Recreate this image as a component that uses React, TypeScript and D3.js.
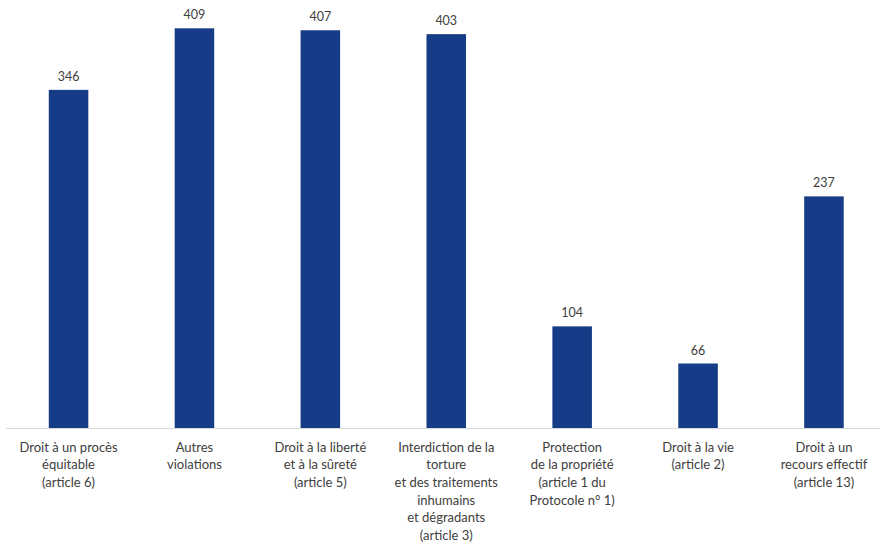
import React from "react";
import * as d3 from "d3";

const categories: string[][] = [
  ["Droit à un procès", "équitable", "(article 6)"],
  ["Autres", "violations"],
  ["Droit à la liberté", "et à la sûreté", "(article 5)"],
  ["Interdiction de la", "torture", "et des traitements", "inhumains", "et dégradants", "(article 3)"],
  ["Protection", "de la propriété", "(article 1 du", "Protocole n° 1)"],
  ["Droit à la vie", "(article 2)"],
  ["Droit à un", "recours effectif", "(article 13)"],
];
const values: number[] = [346, 409, 407, 403, 104, 66, 237];

const W = 880;
const H = 545;
const baseY = 428;
const FONT = "Lato, 'Open Sans', sans-serif";

export default function App() {
  const idx = categories.map((_, i) => String(i));
  const x = d3.scaleBand<string>().domain(idx).range([5.6, 886.9]).paddingInner(0.686).paddingOuter(0.343);
  const y = d3.scaleLinear().domain([0, 409]).range([baseY, 28.3]);
  return (
    <svg width={W} height={H} style={{ position: "absolute", left: 0, top: 0, display: "block" }}>
      <rect width={W} height={H} fill="#ffffff" />
      {values.map((v, i) => (
        <g key={i}>
          <rect x={x(String(i))} y={y(v)} width={x.bandwidth()} height={baseY - y(v)} fill="#173C87" />
          <text x={(x(String(i)) as number) + x.bandwidth() / 2} y={y(v) - 9} textAnchor="middle" fontFamily={FONT} fontSize={12.5} fill="#404040">
            {v}
          </text>
        </g>
      ))}
      <line x1={6} x2={880} y1={baseY + 0.5} y2={baseY + 0.5} stroke="#d9d9d9" strokeWidth={1} />
      {categories.map((lines, i) => (
        <text key={i} textAnchor="middle" fontFamily={FONT} fontSize={13} fill="#404040">
          {lines.map((l, j) => (
            <tspan key={j} x={(x(String(i)) as number) + x.bandwidth() / 2} y={451.7 + j * 17.6}>
              {l}
            </tspan>
          ))}
        </text>
      ))}
    </svg>
  );
}
